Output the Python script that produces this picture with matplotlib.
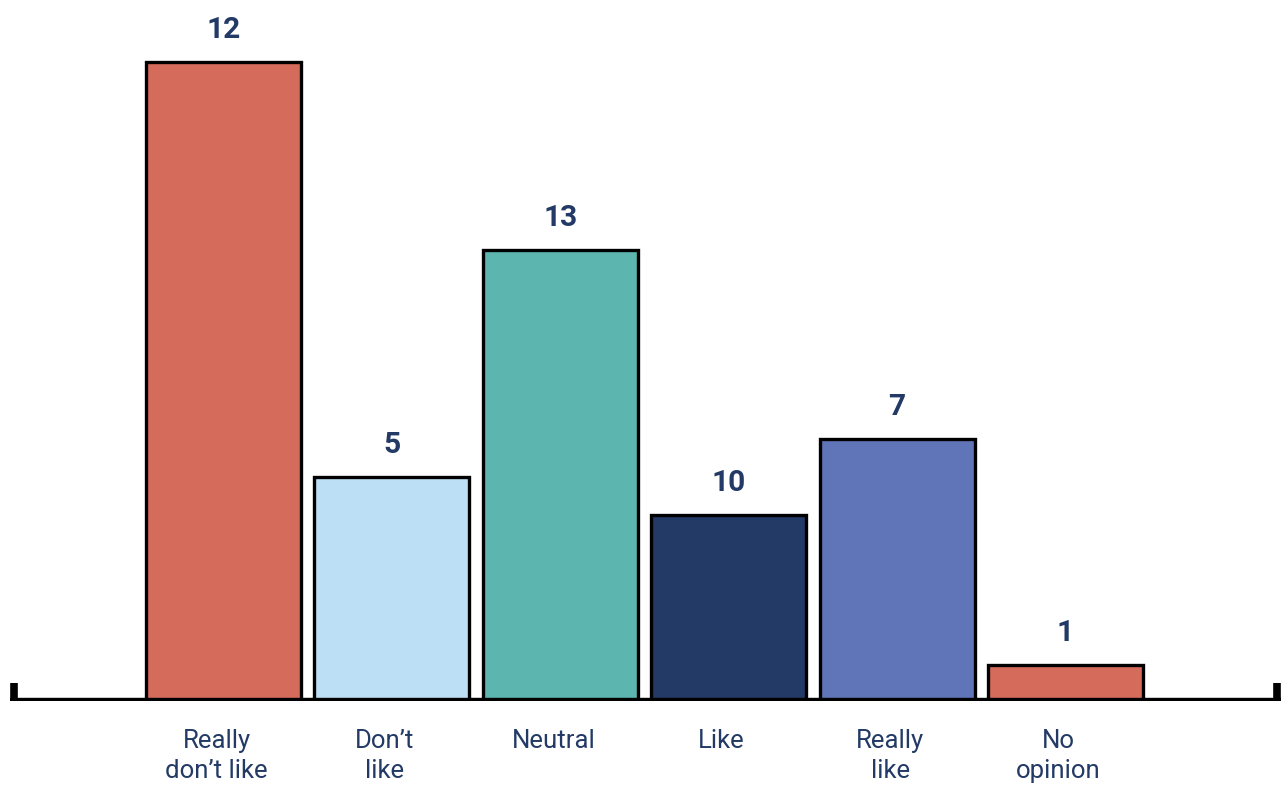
import matplotlib.pyplot as plt

# categories, the numbers printed above the bars, and the bar heights as drawn
categories = ['Really\ndon\u2019t like', 'Don\u2019t\nlike', 'Neutral', 'Like', 'Really\nlike', 'No\nopinion']
counts = [12, 5, 13, 10, 7, 1]
bar_heights = [12.0, 4.2, 8.47, 3.49, 4.92, 0.68]
colors = ['#d56b5b', '#bcdff5', '#5cb5ae', '#223a65', '#5f75b7', '#d56b5b']

text_color = '#223a65'
plt.rcParams['font.family'] = ['Roboto', 'DejaVu Sans']

fig = plt.figure(figsize=(12.83, 7.87), dpi=100)
ax = fig.add_axes([0, 86 / 787, 1, 701 / 787])

x = list(range(len(categories)))
ax.bar(x, bar_heights, width=0.92, color=colors, edgecolor='black', linewidth=2.4, zorder=2)

# baseline with small end ticks
ax.plot([-1.27, 6.28], [0, 0], color='black', linewidth=4.6, solid_capstyle='butt', zorder=3)
for xe in (-1.245, 6.255):
    ax.plot([xe, xe], [0, 0.34], color='black', linewidth=5.5, solid_capstyle='butt', zorder=3)

for xi, h, c in zip(x, bar_heights, counts):
    ax.annotate(str(c), (xi, h), xytext=(0, 13), textcoords='offset points',
                ha='center', va='bottom', fontsize=21.5, fontweight='bold', color=text_color)

for xi, lab in zip(x, categories):
    ax.annotate(lab, (xi, 0), xytext=(-5, -20), textcoords='offset points',
                ha='center', va='top', fontsize=18.5, color=text_color, linespacing=1.33)

ax.set_xlim(-1.327, 6.292)
ax.set_ylim(0, 701 / 53.25)
ax.axis('off')

fig.savefig('out.png', dpi=100)
